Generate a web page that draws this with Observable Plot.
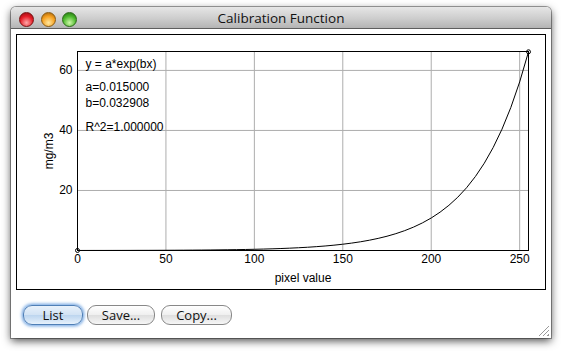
<!DOCTYPE html>
<html>
<head>
<meta charset="utf-8">
<script src="https://cdn.jsdelivr.net/npm/d3@7"></script>
<script src="https://cdn.jsdelivr.net/npm/@observablehq/plot@0.6"></script>
<style>
  html, body { margin: 0; padding: 0; background: #fff; width: 562px; height: 354px; overflow: hidden; }
  #win { position: absolute; left: 11px; top: 7px; width: 540px; height: 331px; background: #fff;
    border-radius: 5px 5px 0 0; box-shadow: 0 3px 8px rgba(0,0,0,0.7), 0 0 0 1px rgba(0,0,0,0.35); }
  #titlebar { position: absolute; left: 0; top: 0; width: 540px; height: 21px;
    background: linear-gradient(#e6e6e6, #cdcdcd 55%, #b4b4b4); border-bottom: 1px solid #5e5e5e;
    border-radius: 5px 5px 0 0; }
  #title { position: absolute; left: 0; width: 540px; top: 2px; text-align: center;
    font: 13.5px "Open Sans", "DejaVu Sans", sans-serif; color: #111; }
  .light { position: absolute; top: 4.5px; width: 13px; height: 13px; border-radius: 50%; }
  #red { left: 8px; background: radial-gradient(circle at 50% 75%, #ffa8a8, #e41c26 55%, #8a0c10); border: 0.5px solid #7a1010; }
  #yel { left: 29.5px; background: radial-gradient(circle at 50% 75%, #ffe8a0, #f5a020 55%, #9a5a08); border: 0.5px solid #8a5a10; }
  #grn { left: 50.5px; background: radial-gradient(circle at 50% 75%, #cff8a8, #4cb82c 55%, #1f6a10); border: 0.5px solid #2a6a16; }
  #box { position: absolute; left: 5px; top: 27px; width: 528px; height: 254px; border: 1px solid #000; background: #fff; }
  #box svg { display: block; }
  .btn { position: absolute; top: 298px; height: 18px; border-radius: 9px; border: 1px solid #888;
    background: linear-gradient(#ffffff, #efefef 50%, #dedede 51%, #f6f6f6);
    font: 13px "Open Sans", "DejaVu Sans", sans-serif; color: #111; text-align: center; line-height: 18px; }
  #b1 { left: 12px; width: 58px; border-color: #4f7fb6; background: linear-gradient(#e8f1fb, #d2e3f4 50%, #bcd5ef 51%, #e6f1fc);
    box-shadow: 0 0 3px 1.5px rgba(90,150,220,0.75); }
  #b2 { left: 76px; width: 66px; }
  #b3 { left: 150px; width: 69px; }
  #grip { position: absolute; right: 2px; bottom: 2px; width: 11px; height: 11px;
    background: repeating-linear-gradient(135deg, transparent 0 2px, #9a9a9a 2px 3px);
    clip-path: polygon(100% 0, 100% 100%, 0 100%); }
</style>
</head>
<body>
<div id="win">
  <div id="titlebar">
    <div class="light" id="red"></div><div class="light" id="yel"></div><div class="light" id="grn"></div>
    <div id="title">Calibration Function</div>
  </div>
  <div id="box"></div>
  <div class="btn" id="b1">List</div>
  <div class="btn" id="b2">Save...</div>
  <div class="btn" id="b3">Copy...</div>
  <div id="grip"></div>
</div>
<script>
// pixel values (x) and calibrated concentration mg/m3 (y)
const pixelValues = [0,5,10,15,20,25,30,35,40,45,50,55,60,65,70,75,80,85,90,95,100,105,110,115,120,125,130,135,140,145,150,155,160,165,170,175,180,185,190,195,200,205,210,215,220,225,230,235,240,245,250,255];
const mgm3 = [0.015,0.0177,0.0209,0.0246,0.029,0.0342,0.0403,0.0475,0.056,0.066,0.0778,0.0917,0.108,0.127,0.150,0.177,0.209,0.246,0.290,0.342,0.403,0.475,0.560,0.660,0.779,0.918,1.082,1.276,1.504,1.773,2.090,2.464,2.904,3.424,4.036,4.758,5.609,6.612,7.795,9.189,10.83,12.77,15.06,17.75,20.92,24.67,29.08,34.28,40.41,47.64,56.16,66.21];
// calibration points marked with circles
const markX = [0, 255];
const markY = [0.015, 66.21];
const xTicks = [0, 50, 100, 150, 200, 250];
const yTicks = [20, 40, 60];
const fitLines = ["y = a*exp(bx)", "a=0.015000", "b=0.032908", "R^2=1.000000"];

const curve = pixelValues.map((x, i) => ({x, y: mgm3[i]}));
const marks = markX.map((x, i) => ({x, y: markY[i]}));
const textOffsets = [12.5, 36, 52, 76];

const chart = Plot.plot({
  width: 528, height: 254,
  marginLeft: 60, marginRight: 17, marginTop: 16, marginBottom: 39,
  style: {fontFamily: "'Liberation Sans', Arial, sans-serif", fontSize: "12px", background: "white", color: "black"},
  x: {domain: [0, 255]},
  y: {domain: [0, 66.3]},
  marks: [
    Plot.gridX(xTicks.filter(d => d > 0), {stroke: "#adadad", strokeOpacity: 1}),
    Plot.gridY(yTicks, {stroke: "#adadad", strokeOpacity: 1}),
    Plot.axisX(xTicks, {tickSize: 0, tickPadding: 4, label: "pixel value", labelAnchor: "center", labelOffset: 31, labelArrow: "none", fontSize: 12}),
    Plot.axisY(yTicks, {tickSize: 0, tickPadding: 5, label: "mg/m3", labelAnchor: "center", labelOffset: 33, labelArrow: "none", fontSize: 12}),
    Plot.line(curve, {x: "x", y: "y", stroke: "black", strokeWidth: 1}),
    Plot.dot(marks, {x: "x", y: "y", r: 2, stroke: "black", fill: "white", strokeWidth: 1}),
    ...fitLines.map((t, i) => Plot.text([t], {frameAnchor: "top-left", dx: 8, dy: textOffsets[i], textAnchor: "start", lineAnchor: "middle", fontSize: 12, fill: "black"})),
    Plot.frame({stroke: "black", strokeWidth: 1})
  ]
});
document.getElementById("box").appendChild(chart);
</script>
</body>
</html>
